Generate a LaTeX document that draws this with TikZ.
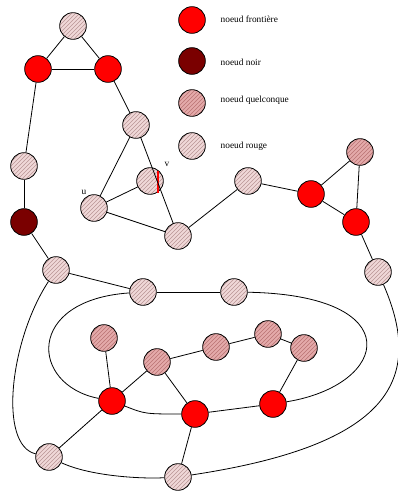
\documentclass[tikz,border=0pt]{standalone}
\usepackage{fontspec}
\setmainfont{Liberation Serif}
\usepackage{tikz}
\usetikzlibrary{patterns}
\definecolor{frontRed}{HTML}{FF0000}
\definecolor{noirRed}{HTML}{7A0000}
\definecolor{quelFill}{RGB}{228,170,170}
\definecolor{quelHatch}{RGB}{185,115,115}
\definecolor{rougeFill}{RGB}{240,216,216}
\definecolor{rougeHatch}{RGB}{185,150,150}

\begin{document}
\begin{tikzpicture}[x=0.75pt, y=-0.75pt,
        sommet/.style={circle, draw=black, line width=0.6pt, minimum size=20pt, inner sep=0pt},
        frontiere/.style={sommet, fill=frontRed},
        noir/.style={sommet, fill=noirRed},
        quelconque/.style={sommet, preaction={fill=quelFill}, pattern=north east lines, pattern color=quelHatch},
        rouge/.style={sommet, preaction={fill=rougeFill}, pattern=north east lines, pattern color=rougeHatch},
        arete/.style={line width=0.6pt},
        legende/.style={anchor=west, font=\fontsize{7}{8}\selectfont}
    ]
        \useasboundingbox (0,0) rectangle (398,493);

        % legende
        \node[frontiere] (leg1) at (192,20) {};
        \node[noir] (leg2) at (192,61) {};
        \node[quelconque] (leg3) at (192,103) {};
        \node[rouge] (leg4) at (192,146) {};
        \node[legende] (txt1) at (216,19) {noeud frontière};
        \node[legende] (txt2) at (216,62) {noeud noir};
        \node[legende] (txt3) at (216,100) {noeud quelconque};
        \node[legende] (txt4) at (216,146) {noeud rouge};

        % sommets
        \node[rouge] (top) at (73,26) {};
        \node[frontiere] (fl) at (38,69) {};
        \node[frontiere] (fr) at (108,69) {};
        \node[rouge] (a) at (136,125) {};
        \node[rouge] (b) at (24,166) {};
        \node[rouge] (v) at (150,181) {};
        \node[rouge] (u) at (94,208) {};
        \node[noir] (n) at (24,222) {};
        \node[rouge] (c) at (178,236) {};
        \node[rouge] (d) at (248,181) {};
        \node[frontiere] (e) at (311,194) {};
        \node[quelconque] (f) at (360,152) {};
        \node[frontiere] (g) at (356,222) {};
        \node[rouge] (h) at (378,272) {};
        \node[rouge] (i) at (56,270) {};
        \node[rouge] (j) at (143,292) {};
        \node[rouge] (k) at (234,292) {};
        \node[quelconque] (l) at (104,338) {};
        \node[quelconque] (m) at (157,362) {};
        \node[quelconque] (q) at (216,347) {};
        \node[quelconque] (o) at (268,334) {};
        \node[quelconque] (p) at (304,348) {};
        \node[frontiere] (F1) at (112,401) {};
        \node[frontiere] (F2) at (195,414) {};
        \node[frontiere] (F3) at (273,404) {};
        \node[rouge] (r) at (49,457) {};
        \node[rouge] (s) at (178,477) {};

        \node[font=\fontsize{7}{8}\selectfont] (lu) at (84,192) {u};
        \node[font=\fontsize{7}{8}\selectfont] (lv) at (167,164) {v};
        \draw[red, line width=0.8pt] ([shift={(8,-10)}]v.center) -- ([shift={(8,12)}]v.center);

        % aretes
        \draw[arete] (top) -- (fl);
        \draw[arete] (top) -- (fr);
        \draw[arete] (fl) -- (fr);
        \draw[arete] (fl) -- (b);
        \draw[arete] (b) -- (n);
        \draw[arete] (fr) -- (a);
        \draw[arete] (a) -- (u);
        \draw[arete] (a) -- (c);
        \draw[arete] (u) -- (v);
        \draw[arete] (u) -- (c);
        \draw[arete] (c) -- (d);
        \draw[arete] (d) -- (e);
        \draw[arete] (e) -- (f);
        \draw[arete] (e) -- (g);
        \draw[arete] (f) -- (g);
        \draw[arete] (g) -- (h);
        \draw[arete] (n) -- (i);
        \draw[arete] (i) -- (j);
        \draw[arete] (j) -- (k);
        \draw[arete] (i) .. controls (10,340) and (-2,445) .. (r);
        \draw[arete] (r) .. controls (90,476) and (140,479) .. (s);
        \draw[arete] (h) .. controls (425,380) and (390,445) .. (s);
        \draw[arete] (j) .. controls (25,300) and (30,385) .. (F1);
        \draw[arete] (k) .. controls (410,295) and (390,385) .. (F3);
        \draw[arete] (F1) -- (l);
        \draw[arete] (F1) -- (m);
        \draw[arete] (F1) .. controls (145,414) .. (F2);
        \draw[arete] (F1) -- (r);
        \draw[arete] (m) -- (F2);
        \draw[arete] (m) -- (q);
        \draw[arete] (q) -- (o);
        \draw[arete] (o) -- (p);
        \draw[arete] (p) -- (F3);
        \draw[arete] (F2) -- (F3);
        \draw[arete] (F2) -- (s);
    \end{tikzpicture}
\end{document}
